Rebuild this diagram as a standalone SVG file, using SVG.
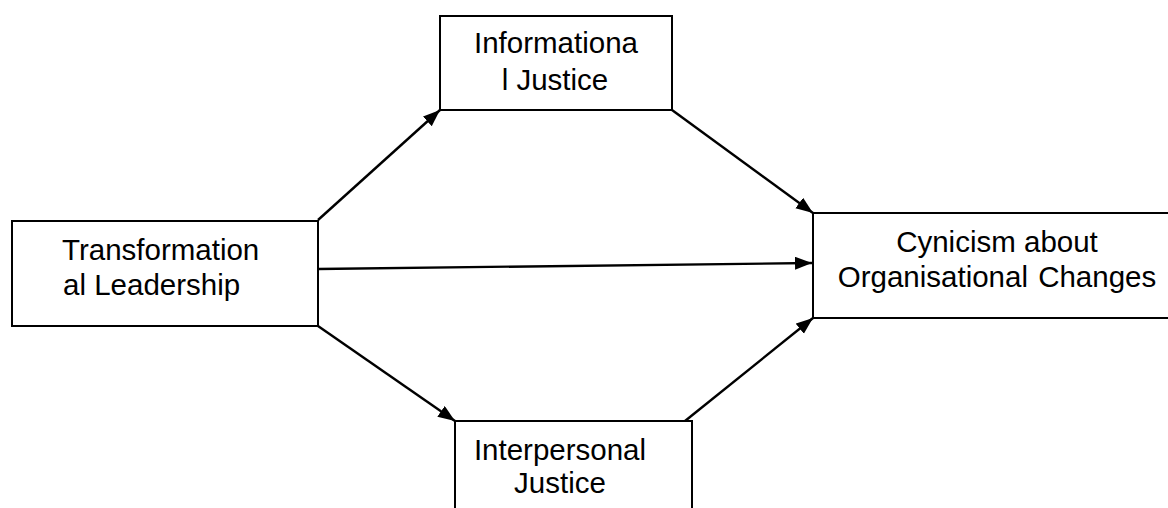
<svg xmlns="http://www.w3.org/2000/svg" width="1168" height="508" viewBox="0 0 1168 508">
<style>
.box{fill:#fff;stroke:#000;stroke-width:2}
.lbl{font-family:"Liberation Sans",Arial,sans-serif;font-size:29.5px;fill:#000}
.mid{text-anchor:middle}
.edge{stroke:#000;stroke-width:2.4;fill:none;marker-end:url(#ah)}
</style>
<defs>
<marker id="ah" markerUnits="userSpaceOnUse" markerWidth="20" markerHeight="16" refX="17" refY="6.5" orient="auto">
<path d="M0,0 L17,6.5 L0,13 z" fill="#000"/>
</marker>
</defs>
<rect width="1168" height="508" fill="#fff"/>
<g id="connectors">
<line class="edge" x1="318" y1="220" x2="440" y2="110"/>
<line class="edge" x1="672" y1="110" x2="813" y2="213"/>
<line class="edge" x1="318" y1="269" x2="812" y2="263"/>
<line class="edge" x1="318" y1="326" x2="455" y2="421"/>
<line class="edge" x1="685" y1="421" x2="813" y2="318"/>
</g>
<g id="transformational">
<rect class="box" x="12" y="221" width="306" height="105"/>
<text class="lbl" x="62" y="260">Transformation</text>
<text class="lbl" x="63" y="295">al Leadership</text>
</g>
<g id="informational">
<rect class="box" x="440" y="16" width="232" height="94"/>
<text class="lbl mid" x="556" y="53">Informationa</text>
<text class="lbl mid" x="555" y="90">l Justice</text>
</g>
<g id="interpersonal">
<rect class="box" x="455" y="421" width="237" height="100"/>
<text class="lbl mid" x="560" y="460">Interpersonal</text>
<text class="lbl mid" x="560" y="493">Justice</text>
</g>
<g id="cynicism">
<rect class="box" x="813" y="213" width="370" height="105"/>
<text class="lbl mid" x="997" y="252">Cynicism about</text>
<text class="lbl mid" x="997" y="287" word-spacing="2">Organisational Changes</text>
</g>
</svg>
